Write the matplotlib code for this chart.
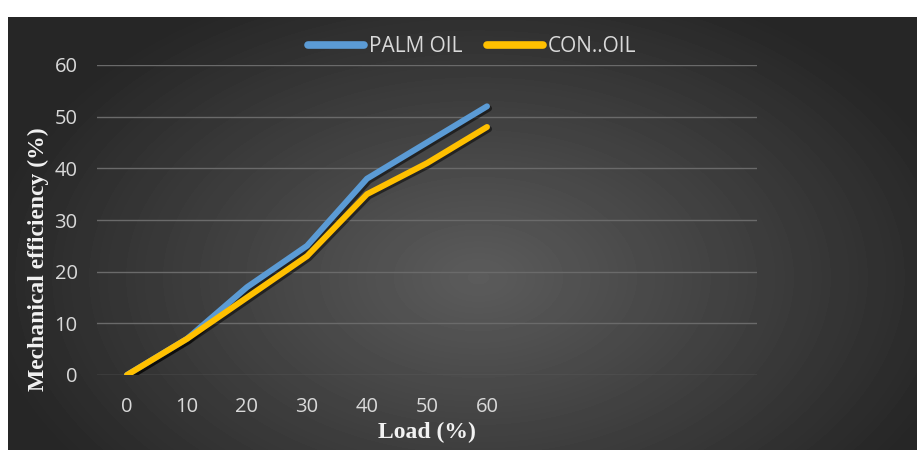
import numpy as np
import matplotlib
matplotlib.use('Agg')
import matplotlib.pyplot as plt
import matplotlib.patheffects as pe

# Mechanical efficiency vs load for the two fuels
load = ['0', '10', '20', '30', '40', '50', '60']
palm_oil = [0, 7, 17, 25, 38, 45, 52]
con_oil = [0, 7, 15, 23, 35, 41, 48]

fig = plt.figure(figsize=(9.17, 4.5), dpi=100)
fig.patch.set_facecolor('white')

# dark radial-gradient panel behind the chart
bg = fig.add_axes([8/917, 0, 1 - 8/917, 433/450])
yy, xx = np.mgrid[0:433, 0:909]
r = np.sqrt(((xx - 470) / 520.0) ** 2 + ((yy - 260) / 330.0) ** 2)
shade = np.clip(0.36 - 0.22 * r, 0.15, 0.36)
bg.imshow(shade, cmap='gray', vmin=0, vmax=1, aspect='auto', interpolation='bilinear')
bg.axis('off')

ax = fig.add_axes([97/917, 75/450, 660/917, 310/450])
ax.patch.set_alpha(0)
x = np.arange(len(load))

shadow = [pe.SimpleLineShadow(offset=(1.5, -1.5), shadow_color='black', alpha=0.5), pe.Normal()]
ax.plot(x, palm_oil, color='#5b9bd5', lw=4.3, solid_capstyle='round', solid_joinstyle='round',
        label='PALM OIL', path_effects=shadow, zorder=3)
ax.plot(x, con_oil, color='#ffc000', lw=4.3, solid_capstyle='round', solid_joinstyle='round',
        label='CON..OIL', path_effects=shadow, zorder=4)

ax.set_xlim(-0.5, 10.5)
ax.set_ylim(0, 60)
ax.set_yticks(range(0, 61, 10))
ax.set_xticks(x)
ax.set_xticklabels(load)
ax.grid(axis='y', color='#6a6a6a', lw=1)
ax.set_axisbelow(True)
for s in ax.spines.values():
    s.set_visible(False)
ax.tick_params(length=0, colors='#d9d9d9', labelsize=14.5, pad=14)
ax.tick_params(axis='x', pad=16)
for lab in ax.get_xticklabels() + ax.get_yticklabels():
    lab.set_family('Open Sans')

ax.set_xlabel('Load (%)', family='Liberation Serif', fontweight='bold', fontsize=17,
              color='#f2f2f2', va='center')
ax.xaxis.set_label_coords(0.5, -57/310, transform=ax.transAxes)
ax.set_ylabel('Mechanical efficiency (%)', family='Liberation Serif', fontweight='bold',
              fontsize=17, color='#f2f2f2', va='center')
ax.yaxis.set_label_coords(-59/660, 116/310, transform=ax.transAxes)

handles, labels = ax.get_legend_handles_labels()
leg = fig.legend(handles, labels, loc='center', bbox_to_anchor=(472/917, 1 - 47/450), ncol=2,
                 frameon=False, prop={'family': 'Open Sans', 'size': 15}, labelcolor='#d9d9d9',
                 handlelength=2.7, handletextpad=0.2, columnspacing=1.2)
for h in leg.get_lines():
    h.set_path_effects([])
    h.set_linewidth(5.5)
    h.set_solid_capstyle('round')

fig.savefig('out.png', dpi=100)
